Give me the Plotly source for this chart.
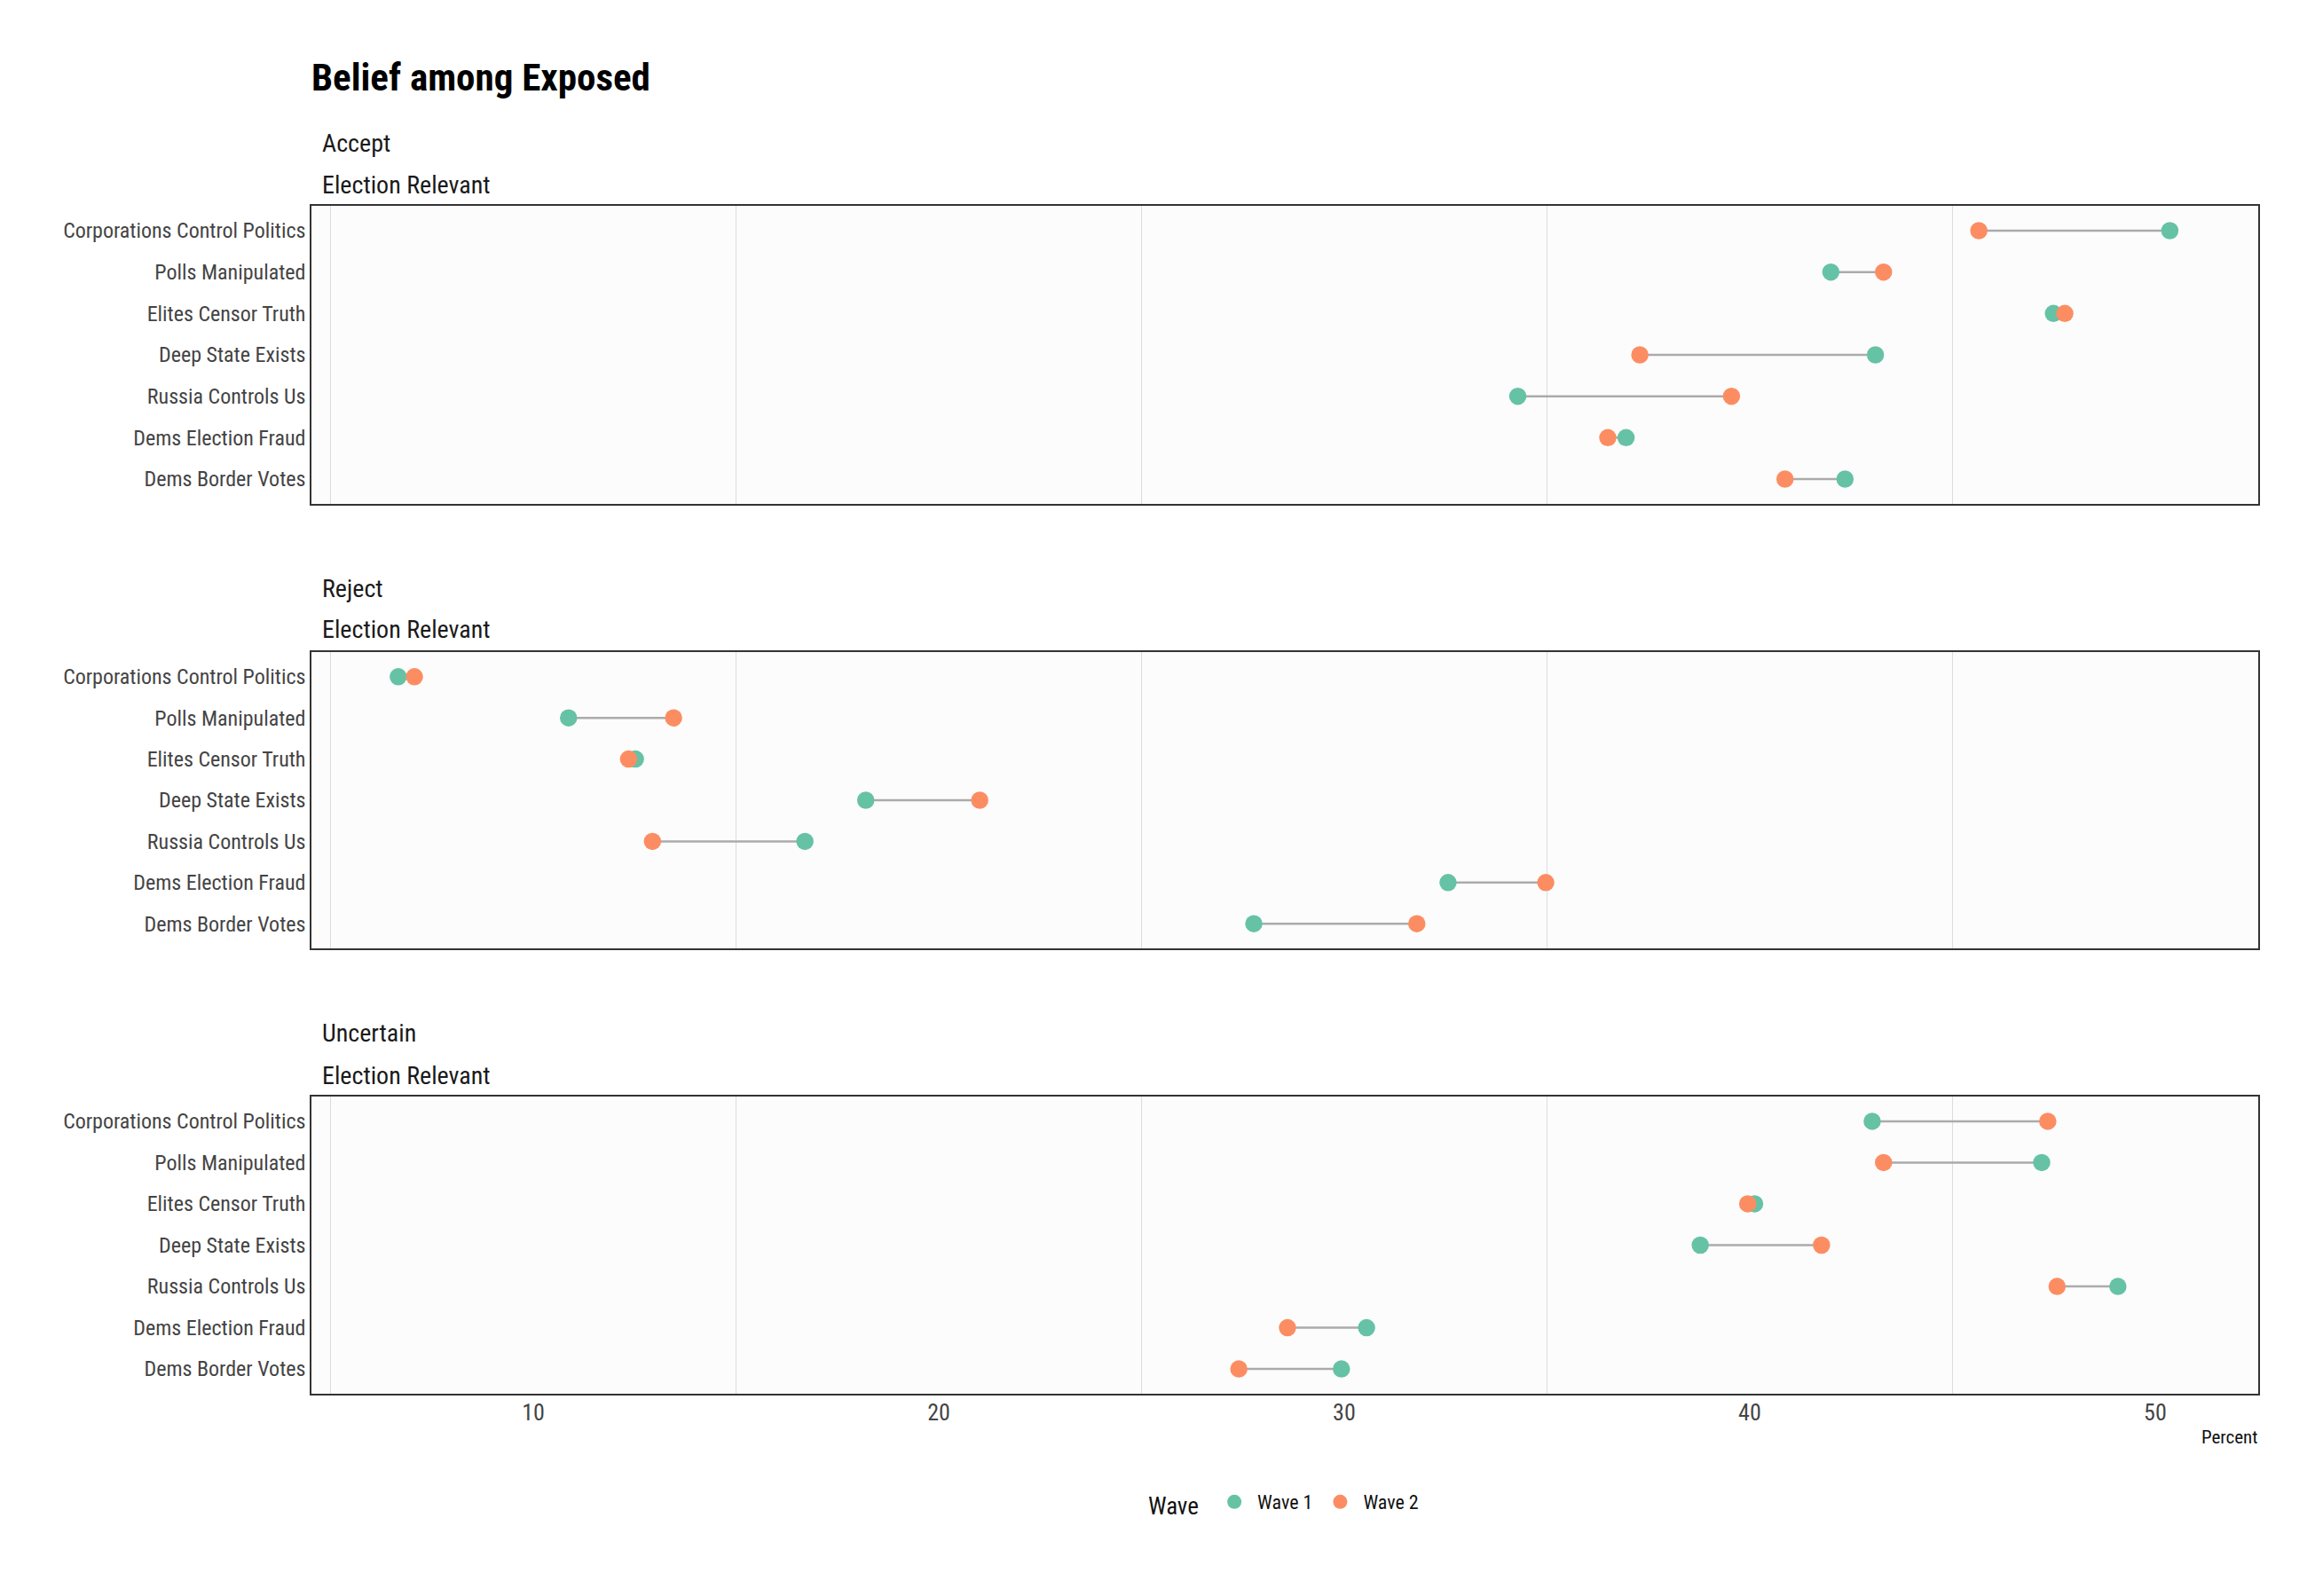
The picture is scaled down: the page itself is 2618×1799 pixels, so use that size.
import plotly.graph_objects as go

categories = ["Corporations Control Politics", "Polls Manipulated", "Elites Censor Truth",
              "Deep State Exists", "Russia Controls Us", "Dems Election Fraud", "Dems Border Votes"]

panels = ["Accept", "Reject", "Uncertain"]
subtitle = "Election Relevant"

accept_w1 = [50.36, 42.0, 47.49, 43.1, 34.28, 36.95, 42.35]
accept_w2 = [45.65, 43.3, 47.77, 37.29, 39.55, 36.5, 40.87]
reject_w1 = [6.67, 10.87, 12.52, 18.2, 16.7, 32.56, 27.77]
reject_w2 = [7.07, 13.46, 12.35, 21.01, 12.94, 34.97, 31.79]
uncertain_w1 = [43.02, 47.2, 40.12, 38.78, 49.08, 30.55, 29.93]
uncertain_w2 = [47.35, 43.3, 39.95, 41.77, 47.58, 28.6, 27.4]

x_ticks = [10, 20, 30, 40, 50]
x_minor = [5, 15, 25, 35, 45]

wave_names = ["Wave 1", "Wave 2"]
wave_colors = ["#66C2A5", "#FC8D62"]

data = {
    "Accept": (accept_w1, accept_w2),
    "Reject": (reject_w1, reject_w2),
    "Uncertain": (uncertain_w1, uncertain_w2),
}

W, H = 2618, 1799
FONT = "Roboto Condensed, Liberation Sans Narrow, Arial Narrow, DejaVu Sans Condensed, sans-serif"

def px(x):
    return x / W

def py(y):
    return 1 - y / H

panel_left, panel_right = 351, 2545
panel_tb = [(232, 568), (735, 1069), (1236, 1571)]
strip1_y = [161, 663, 1164]
strip2_y = [208, 710, 1212]

fig = go.Figure()

for i, name in enumerate(panels):
    w1, w2 = data[name]
    xa = "x" if i == 0 else f"x{i+1}"
    ya = "y" if i == 0 else f"y{i+1}"
    seg_x, seg_y = [], []
    for c, a, b in zip(categories, w1, w2):
        seg_x += [a, b, None]
        seg_y += [c, c, None]
    fig.add_trace(go.Scatter(x=seg_x, y=seg_y, mode="lines",
                             line=dict(color="#ababab", width=2.5),
                             showlegend=False, hoverinfo="skip", xaxis=xa, yaxis=ya))
    for k, vals in enumerate((w1, w2)):
        fig.add_trace(go.Scatter(x=vals, y=categories, mode="markers",
                                 marker=dict(color=wave_colors[k], size=19.5, line=dict(width=0)),
                                 name=wave_names[k], legendgroup=wave_names[k],
                                 showlegend=(i == 0), xaxis=xa, yaxis=ya))

layout = dict(
    width=W, height=H,
    margin=dict(l=0, r=0, t=0, b=0),
    paper_bgcolor="white",
    plot_bgcolor="#FCFCFC",
    font=dict(family=FONT, color="#222222"),
    showlegend=True,
    legend=dict(orientation="h", x=px((panel_left + panel_right) / 2), xanchor="center",
                y=py(1695), yanchor="middle", itemwidth=42,
                title=dict(text="Wave ", font=dict(size=27, color="#111111", family=FONT)),
                font=dict(size=22, color="#111111", family=FONT),
                bgcolor="rgba(0,0,0,0)"),
)

for i in range(3):
    top, bot = panel_tb[i]
    xkey = "xaxis" if i == 0 else f"xaxis{i+1}"
    ykey = "yaxis" if i == 0 else f"yaxis{i+1}"
    ya = "y" if i == 0 else f"y{i+1}"
    xa = "x" if i == 0 else f"x{i+1}"
    layout[xkey] = dict(
        domain=[px(panel_left), px(panel_right)],
        anchor=ya,
        range=[4.53, 52.54],
        tickvals=x_ticks,
        showticklabels=(i == 2),
        ticks="",
        showgrid=False,
        zeroline=False,
        showline=True, mirror=True, linecolor="#333333", linewidth=1.5,
        minor=dict(tickvals=x_minor, showgrid=True, gridcolor="#DCDCDC", gridwidth=1, ticks=""),
        tickfont=dict(size=26, color="#444444", family=FONT),
        ticklabelstandoff=-3,
    )
    layout[ykey] = dict(
        domain=[py(bot), py(top)],
        anchor=xa,
        type="category",
        categoryorder="array",
        categoryarray=categories,
        range=[6.6, -0.6],
        showgrid=False,
        zeroline=False,
        ticks="",
        showline=True, mirror=True, linecolor="#333333", linewidth=1.5,
        tickfont=dict(size=24, color="#444444", family=FONT),
        ticklabelstandoff=0,
    )

fig.update_layout(**layout)

annotations = [
    dict(text="<b>Belief among Exposed</b>", x=px(349), y=py(87), xref="paper", yref="paper",
         xanchor="left", yanchor="middle", showarrow=False,
         font=dict(size=43, color="#000000", family=FONT)),
    dict(text="Percent", x=px(2546), y=py(1620), xref="paper", yref="paper",
         xanchor="right", yanchor="middle", showarrow=False,
         font=dict(size=21, color="#111111", family=FONT)),
]
for i, name in enumerate(panels):
    annotations.append(dict(text=name, x=px(361), y=py(strip1_y[i]), xref="paper", yref="paper",
                            xanchor="left", yanchor="middle", showarrow=False,
                            font=dict(size=28, color="#1a1a1a", family=FONT)))
    annotations.append(dict(text=subtitle, x=px(361), y=py(strip2_y[i]), xref="paper", yref="paper",
                            xanchor="left", yanchor="middle", showarrow=False,
                            font=dict(size=28, color="#1a1a1a", family=FONT)))
fig.update_layout(annotations=annotations)

fig.write_html("out.html", config={"displayModeBar": False},
               post_script="document.body.style.margin='0';")
